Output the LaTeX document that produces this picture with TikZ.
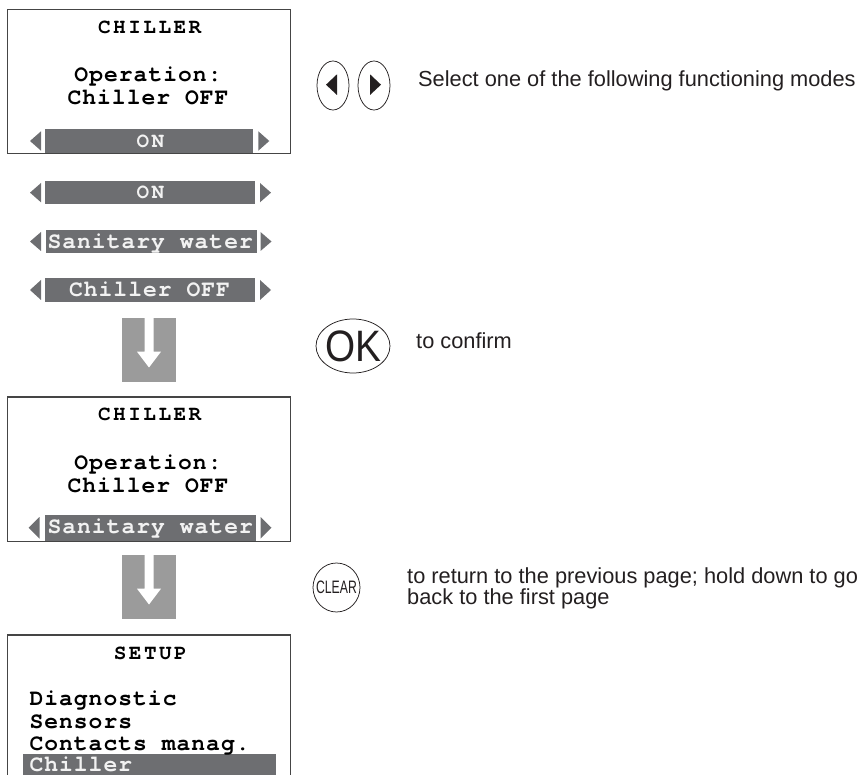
\documentclass[tikz,border=0pt]{standalone}
\usepackage{fontspec}
\setmainfont{Liberation Sans}
\newfontfamily\lcdfont{texgyrecursor-bold.otf}[LetterSpace=4.4]
\newfontfamily\lcdtitlefont{texgyrecursor-bold.otf}[LetterSpace=11.9]
\usetikzlibrary{shapes.geometric}
\definecolor{ink}{HTML}{231F20}
\definecolor{barc}{HTML}{6D6E71}
\definecolor{arrowc}{HTML}{9B9B9B}
\definecolor{framec}{HTML}{454545}
\definecolor{bartext}{HTML}{F2F2F2}
% #1 top, #2 bottom, #3 bar left, #4 bar right, #5 left triangle x, #6 right triangle x
\newcommand\optbar[6]{%
  \fill[barc] (#3,#1) rectangle (#4,#2);
  \fill[barc] (#5,{(#1+#2)/2}) -- (#5+11,#1+2) -- (#5+11,#2-2) -- cycle;
  \fill[barc] (#6,#1+2) -- (#6+11,{(#1+#2)/2}) -- (#6,#2-2) -- cycle;
}
% #1 top y of arrow box
\newcommand\downarrowbox[1]{%
  \fill[arrowc] (121.7,#1) rectangle (176,#1+64);
  \fill[white] (144.5,#1-0.5) -- (144.5,#1+33.7) -- (137,#1+33.7) -- (149,#1+49.5)
     -- (161,#1+33.7) -- (153.5,#1+33.7) -- (153.5,#1-0.5) -- cycle;
}
\begin{document}
\begin{tikzpicture}[x=1pt,y=-1pt,
  screenframe/.style={draw=framec,line width=1.2pt},
  lcd/.style={inner sep=0pt,anchor=base,text=black,font=\lcdfont\fontsize{23}{25}\selectfont},
  lcdl/.style={lcd,anchor=base west},
  lcdt/.style={inner sep=0pt,anchor=base,text=black,font=\lcdtitlefont\fontsize{21}{23}\selectfont},
  onbar/.style={text=bartext},
  lab/.style={inner sep=0pt,anchor=base west,text=ink,font=\fontsize{21.8}{24}\selectfont},
  btn/.style={draw=ink,line width=0.75pt,ellipse,inner sep=0pt},
]
\useasboundingbox (0,0) rectangle (857,775);
\clip (0,0) rectangle (857,775);

% ---------- screen 1 ----------
\optbar{129.3}{152.7}{45}{252.7}{30}{258.3}
\draw[screenframe] (7.3,9.3) rectangle (290.5,153.3);
\node[lcdt] (s1title) at (149.7,33.3) {CHILLER};
\node[lcd] (s1op) at (148,81.7) {Operation:};
\node[lcd] (s1mode) at (148,105) {Chiller OFF};
\node[lcdt,onbar] (s1sel) at (150.4,147.5) {ON};

% ---------- option list ----------
\optbar{181}{204.3}{45}{255}{30}{260}
\node[lcdt,onbar] (opt1) at (150.4,198.5) {ON};
\optbar{230}{253}{46}{257}{30}{260.5}
\node[lcd,onbar] (opt2) at (150.2,248.5) {Sanitary water};
\optbar{278}{302}{45}{255}{30}{260}
\node[lcd,onbar] (opt3) at (149.5,296.7) {Chiller OFF};

% ---------- arrows ----------
\downarrowbox{318}
\downarrowbox{555}

% ---------- screen 2 ----------
\optbar{515}{540.5}{45}{256}{28.5}{260.5}
\draw[screenframe] (7.3,397) rectangle (290.5,541.5);
\node[lcdt] (s2title) at (149.7,420.5) {CHILLER};
\node[lcd] (s2op) at (148,469.7) {Operation:};
\node[lcd] (s2mode) at (148,492.7) {Chiller OFF};
\node[lcd,onbar] (s2sel) at (150.2,533.5) {Sanitary water};

% ---------- screen 3 ----------
\fill[barc] (22.7,754) rectangle (276,790);
\draw[screenframe] (7.3,790) -- (7.3,635) -- (290.5,635) -- (290.5,790);
\node[lcdt] (s3title) at (150.3,659.5) {SETUP};
\node[lcdl] (m1) at (29.3,705.7) {Diagnostic};
\node[lcdl] (m2) at (29.3,728.3) {Sensors};
\node[lcdl] (m3) at (29.3,750.7) {Contacts manag.};
\node[lcdl,onbar] (m4) at (29.3,771) {Chiller};

% ---------- buttons ----------
\node[btn,minimum width=32pt,minimum height=49pt] (bleft) at (333,85.5) {};
\node[btn,minimum width=32pt,minimum height=49pt] (bright) at (374,85.5) {};
\fill[ink] (326,84.7) -- (337,74.3) -- (337,95) -- cycle;
\fill[ink] (370,74.3) -- (381,84.7) -- (370,95) -- cycle;

\node[btn,minimum width=74pt,minimum height=54pt] (okb) at (353,346) {};
\node[inner sep=0pt,text=ink,font=\fontsize{44}{44}\selectfont] (oktext) at (okb) {\scalebox{0.88}[1]{OK}};

\node[btn,minimum width=47pt,minimum height=49pt] (clrb) at (336.5,587.5) {};
\node[inner sep=0pt,text=ink,font=\fontsize{18}{18}\selectfont] (clrtext) at (clrb) {\scalebox{0.68}[1]{CLEAR}};

% ---------- labels ----------
\node[lab] (t1) at (418,86.5) {Select one of the following functioning modes};
\node[lab] (t2) at (416,349) {to confirm};
\node[lab] (t3) at (407,583.5) {to return to the previous page; hold down to go};
\node[lab] (t4) at (407,604.5) {back to the first page};
\end{tikzpicture}
\end{document}
